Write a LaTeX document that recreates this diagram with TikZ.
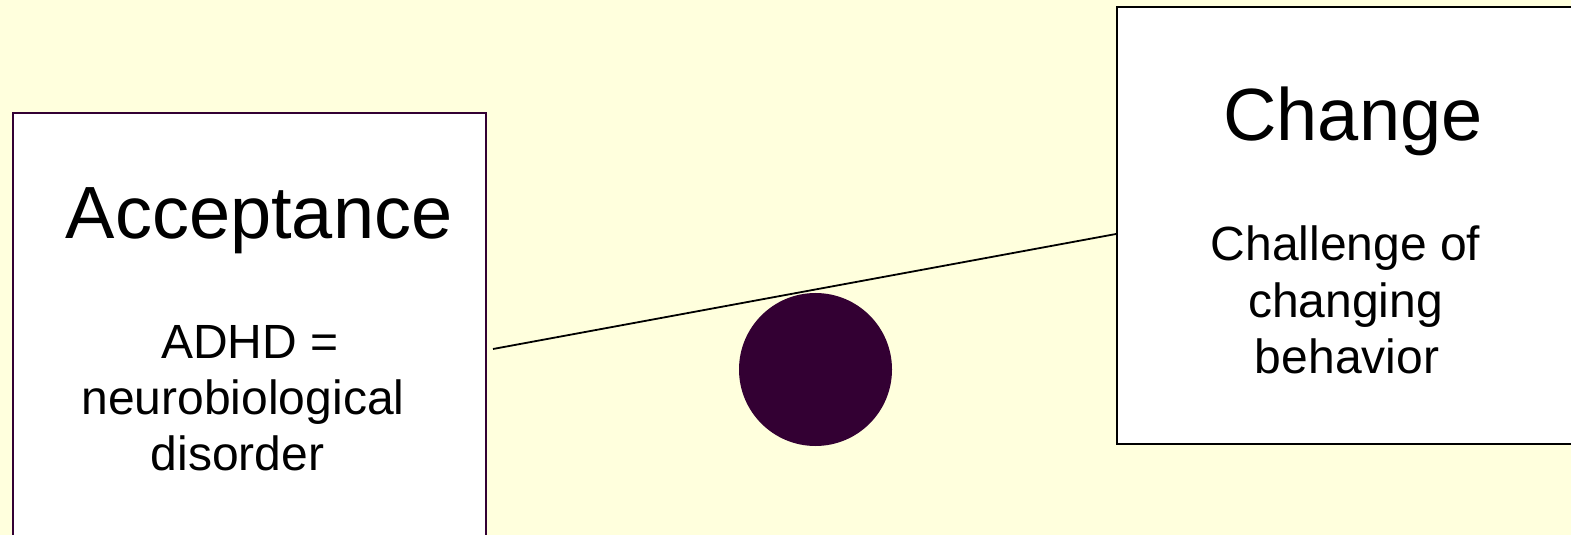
\documentclass[tikz,border=0pt]{standalone}
\usepackage{fontspec}
\setmainfont{Liberation Sans}
\definecolor{bg}{HTML}{FFFFDD}
\definecolor{plum}{HTML}{330033}
\tikzset{
  big/.style={font=\fontsize{74bp}{74bp}\selectfont, anchor=base, inner sep=0pt},
  small/.style={font=\fontsize{48bp}{48bp}\selectfont, anchor=base, inner sep=0pt},
  box/.style={draw, fill=white, line width=2bp, inner sep=0pt},
}
\begin{document}
\begin{tikzpicture}[x=1bp,y=-1bp]
\useasboundingbox (0,0) rectangle (1571,535);
\fill[bg] (0,0) rectangle (1571,535);
\clip (0,0) rectangle (1571,535);
% boxes
\node[box, draw=plum, minimum width=472.5bp, minimum height=432bp] (accbox) at (249.75,329.5) {};
\node[box, draw=black, minimum width=463bp, minimum height=437bp] (chgbox) at (1348.5,225.5) {};
% texts
\node[big] (acc) at (259,239) {Acceptance};
\node[small] (l1) at (250,358) {ADHD =};
\node[small] (l2) at (243,414) {neurobiological};
\node[small] (l3) at (237.5,470) {disorder};
\node[big] (chg) at (1353,141) {Change};
\node[small] (r1) at (1345.5,261) {Challenge of};
\node[small] (r2) at (1345.5,317) {changing};
\node[small] (r3) at (1347,373) {behavior};
% fulcrum
\node[circle, fill=plum, minimum size=153bp, inner sep=0pt] (ball) at (815.5,369.5) {};
% beam
\coordinate (beamL) at (493,349);
\coordinate (beamR) at (chgbox.west |- 0,234);
\draw[line width=1.8bp] (beamL) -- (beamR);
\end{tikzpicture}
\end{document}
